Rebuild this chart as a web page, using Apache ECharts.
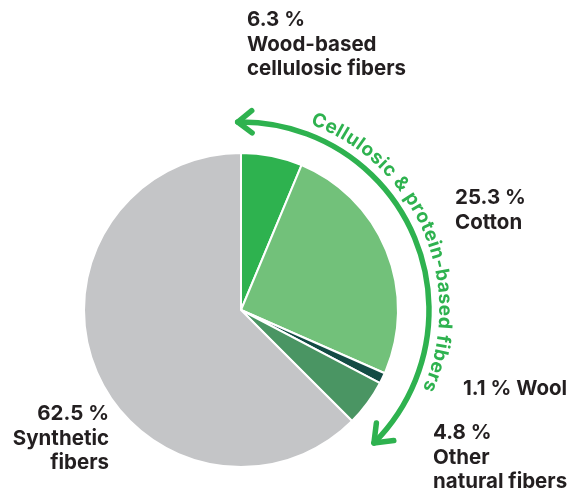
<!DOCTYPE html>
<html>
<head>
<meta charset="utf-8">
<script src="https://cdn.jsdelivr.net/npm/echarts@6/dist/echarts.min.js"></script>
<style>html,body{margin:0;padding:0;background:#fff}#c{width:576px;height:490px}</style>
</head>
<body>
<div id="c"></div>
<script>
var categories = ['Wood-based\ncellulosic fibers', 'Cotton', 'Wool', 'Other\nnatural fibers', 'Synthetic\nfibers'];
var values = [6.3, 25.3, 1.1, 4.8, 62.5];
var colors = ['#2eb24f', '#72c17a', '#134b44', '#4a9563', '#c4c5c7'];
var arcTitle = 'Cellulosic & protein-based fibers';

var CX = 241, CY = 310, R = 157;
var green = '#2eb24f';
var labelFont = 'Inter';

// label anchors (layout only)
var labelPos = [
  {x: 247, y: 8, align: 'left'},
  {x: 455, y: 186, align: 'left'},
  {x: 463, y: 377, align: 'left'},
  {x: 433, y: 421, align: 'left'},
  {x: 109, y: 402, align: 'right'}
];

var chart = echarts.init(document.getElementById('c'), null, {renderer: 'canvas'});

function deg(a) { return a * Math.PI / 180; }
function pt(theta, r) { return [CX + r * Math.sin(deg(theta)), CY - r * Math.cos(deg(theta))]; }

var graphics = [];
var arcR = 188, th0 = -1, th1 = 135;
graphics.push({
  type: 'arc',
  shape: {cx: CX, cy: CY, r: arcR, startAngle: deg(th0 - 90), endAngle: deg(th1 - 90), clockwise: true},
  style: {stroke: green, fill: null, lineWidth: 5.5, lineCap: 'round'},
  silent: true
});
function arrowHead(theta, dir, len) {
  var tip = pt(theta, arcR);
  var t = deg(theta);
  var d = [dir * Math.cos(t), dir * Math.sin(t)];
  var pts = [];
  [38, -38].forEach(function (a) {
    var ar = deg(a);
    var bx = -d[0], by = -d[1];
    var rx = bx * Math.cos(ar) - by * Math.sin(ar);
    var ry = bx * Math.sin(ar) + by * Math.cos(ar);
    pts.push([tip[0] + len * rx, tip[1] + len * ry]);
  });
  return {
    type: 'polyline',
    shape: {points: [pts[0], tip, pts[1]]},
    style: {stroke: green, fill: null, lineWidth: 5.5, lineCap: 'round', lineJoin: 'round'},
    silent: true
  };
}
graphics.push(arrowHead(th0, -1, 18));
graphics.push(arrowHead(th1, 1, 20));

// text along arc
var tSize = 19;
var ctx = document.createElement('canvas').getContext('2d');
ctx.font = 'bold ' + tSize + 'px Inter';
var chars = arcTitle.split('');
var widths = chars.map(function (ch) { return ctx.measureText(ch).width; });
var totalW = widths.reduce(function (a, b) { return a + b; }, 0);
var tR = 204, ts = 20.5, te = 113.5;
var avail = deg(te - ts) * tR;
var sp = (avail - totalW) / (chars.length - 1);
var acc = 0;
chars.forEach(function (ch, i) {
  var center = acc + widths[i] / 2 + i * sp;
  var theta = ts + (center / tR) * 180 / Math.PI;
  var p = pt(theta, tR);
  graphics.push({
    type: 'text',
    x: p[0], y: p[1],
    rotation: -deg(theta),
    style: {text: ch, fontFamily: 'Inter', fontWeight: 'bold', fontSize: tSize, fill: green, align: 'center', verticalAlign: 'middle'},
    silent: true
  });
  acc += widths[i];
});

chart.setOption({
  animation: false,
  graphic: graphics,
  series: [{
    type: 'pie',
    center: [CX, CY],
    radius: [0, R],
    startAngle: 90,
    clockwise: true,
    avoidLabelOverlap: false,
    emphasis: {disabled: true},
    itemStyle: {borderColor: '#fff', borderWidth: 2},
    labelLine: {show: false},
    label: {
      show: true,
      position: 'outside',
      color: '#231f20',
      fontFamily: labelFont,
      fontWeight: 'bold',
      fontSize: 20.5,
      lineHeight: 24.5,
      formatter: function (p) {
        var sep = p.dataIndex === 2 ? ' ' : '\n';
        return p.value + ' %' + sep + p.name;
      }
    },
    labelLayout: function (params) {
      var lp = labelPos[params.dataIndex];
      return {x: lp.x, y: lp.y, align: lp.align, verticalAlign: 'top'};
    },
    data: values.map(function (v, i) {
      return {value: v, name: categories[i], itemStyle: {color: colors[i]}};
    })
  }]
});
</script>
</body>
</html>
